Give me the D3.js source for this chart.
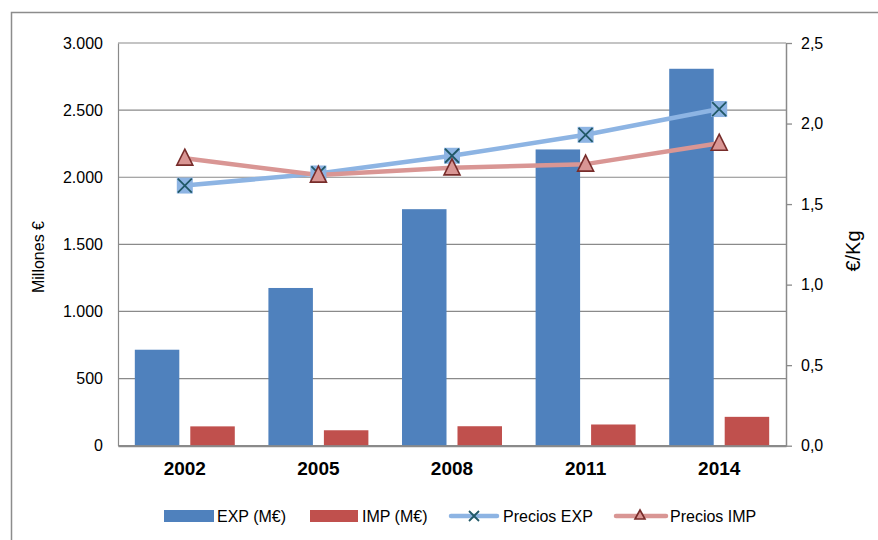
<!DOCTYPE html>
<html><head><meta charset="utf-8">
<script src="https://cdn.jsdelivr.net/npm/d3@7"></script>
<style>
html,body{margin:0;padding:0;background:#fff;}
svg{display:block;font-family:"Liberation Sans",Arial,sans-serif;}
</style></head>
<body>
<svg id="chart" width="878" height="540"></svg>
<script>
const years = ["2002","2005","2008","2011","2014"];
const expValues = [715, 1175, 1762, 2207, 2808];
const impValues = [144, 115, 145, 158, 215];
const preciosExp = [1.615, 1.69, 1.80, 1.93, 2.09];
const preciosImp = [1.785, 1.68, 1.725, 1.748, 1.878];
const leftTicks = [0, 500, 1000, 1500, 2000, 2500, 3000];
const rightTicks = [0, 0.5, 1.0, 1.5, 2.0, 2.5];
const seriesNames = ["EXP (M€)", "IMP (M€)", "Precios EXP", "Precios IMP"];

const svg = d3.select("#chart");
const L = 118, R = 786, T = 43, B = 445.7;
const loc = d3.formatLocale({decimal: ",", thousands: ".", grouping: [3], currency: ["", "€"]});
const fmtL = loc.format(",.0f"), fmtR = loc.format(".1f");

const x = d3.scaleBand().domain(years).range([L, R]).padding(0);
const xs = d3.scaleBand().domain(["EXP","IMP"]).range([0, x.bandwidth()]).paddingInner(0.198).paddingOuter(0.303);
const yL = d3.scaleLinear().domain([0, 3000]).range([B, T]);
const yR = d3.scaleLinear().domain([0, 2.5]).range([B, T]);

// outer border
svg.append("rect").attr("x", 11.5).attr("y", 12.5).attr("width", 900).attr("height", 600)
  .attr("fill", "none").attr("stroke", "#8c8c8c").attr("stroke-width", 1.5);

// gridlines
svg.append("g").selectAll("line").data(leftTicks).join("line")
  .attr("x1", L).attr("x2", R).attr("y1", d => yL(d)).attr("y2", d => yL(d))
  .attr("stroke", "#8a8a8a").attr("stroke-width", 1.2);

// left axis
const gl = svg.append("g").attr("transform", `translate(${L},0)`)
  .call(d3.axisLeft(yL).tickValues(leftTicks).tickFormat(fmtL).tickSize(0).tickPadding(15));
gl.select(".domain").attr("stroke", "#8a8a8a").attr("stroke-width", 1.2);
gl.selectAll("text").attr("font-size", 16).attr("fill", "#000").attr("font-family", "Liberation Sans, Arial, sans-serif");

// right axis
const gr = svg.append("g").attr("transform", `translate(${R},0)`)
  .call(d3.axisRight(yR).tickValues(rightTicks).tickFormat(fmtR).tickSize(6).tickSizeOuter(0).tickPadding(9));
gr.select(".domain").attr("stroke", "#8a8a8a").attr("stroke-width", 1.5);
gr.selectAll(".tick line").attr("stroke", "#8a8a8a").attr("stroke-width", 1.3);
gr.selectAll("text").attr("font-size", 16).attr("fill", "#000").attr("font-family", "Liberation Sans, Arial, sans-serif");

// bars
const bars = svg.append("g");
bars.selectAll("rect.exp").data(years).join("rect").attr("class", "exp")
  .attr("x", d => x(d) + xs("EXP")).attr("width", xs.bandwidth())
  .attr("y", (d, i) => yL(expValues[i])).attr("height", (d, i) => B - yL(expValues[i]))
  .attr("fill", "#4F81BD");
bars.selectAll("rect.imp").data(years).join("rect").attr("class", "imp")
  .attr("x", d => x(d) + xs("IMP")).attr("width", xs.bandwidth())
  .attr("y", (d, i) => yL(impValues[i])).attr("height", (d, i) => B - yL(impValues[i]))
  .attr("fill", "#C0504D");

// bottom axis
const gb = svg.append("g").attr("transform", `translate(0,${B})`)
  .call(d3.axisBottom(x).tickSize(0).tickPadding(16));
gb.select(".domain").attr("stroke", "#8a8a8a").attr("stroke-width", 2);
gb.selectAll("text").attr("font-size", 19).attr("font-weight", "bold").attr("fill", "#000")
  .attr("font-family", "Liberation Sans, Arial, sans-serif");

// lines
const cx = d => x(d) + x.bandwidth() / 2;
const lineExp = d3.line().x((d, i) => cx(years[i])).y(d => yR(d));
svg.append("path").datum(preciosExp).attr("d", lineExp).attr("fill", "none")
  .attr("stroke", "#8DB4E3").attr("stroke-width", 4.5).attr("stroke-linejoin", "round").attr("stroke-linecap", "round");
svg.append("path").datum(preciosImp).attr("d", lineExp).attr("fill", "none")
  .attr("stroke", "#D99694").attr("stroke-width", 4.5).attr("stroke-linejoin", "round").attr("stroke-linecap", "round");

function xMarker(g, px, py, s) {
  g.append("rect").attr("x", px - s/2).attr("y", py - s/2).attr("width", s).attr("height", s).attr("fill", "#8DB4E3");
  const h = s/2 - 1;
  g.append("path").attr("d", `M${px-h},${py-h}L${px+h},${py+h}M${px-h},${py+h}L${px+h},${py-h}`)
    .attr("stroke", "#215967").attr("stroke-width", 1.8).attr("fill", "none");
}
function triMarker(g, px, py, s) {
  g.append("path").attr("d", `M${px},${py - s/2 - 1}L${px + s/2},${py + s/2 - 1}L${px - s/2},${py + s/2 - 1}Z`)
    .attr("fill", "#D99694").attr("stroke", "#772C2A").attr("stroke-width", 1.6).attr("stroke-linejoin", "miter");
}
const mk = svg.append("g");
preciosExp.forEach((v, i) => xMarker(mk, cx(years[i]), yR(v), 16));
preciosImp.forEach((v, i) => triMarker(mk, cx(years[i]), yR(v), 16));

// axis titles
svg.append("text").attr("transform", "translate(44,257) rotate(-90)").attr("text-anchor", "middle")
  .attr("font-size", 16).attr("fill", "#000").text("Millones €");
svg.append("text").attr("transform", "translate(860,251) rotate(-90)").attr("text-anchor", "middle")
  .attr("font-size", 20).attr("fill", "#000").text("€/Kg");

// legend
const lg = svg.append("g").attr("font-size", 16).attr("fill", "#000");
const ly = 516;
lg.append("rect").attr("x", 164).attr("y", ly - 6).attr("width", 50).attr("height", 12).attr("fill", "#4F81BD");
lg.append("text").attr("x", 217).attr("y", ly).attr("dy", "0.35em").text(seriesNames[0]);
lg.append("rect").attr("x", 310).attr("y", ly - 6).attr("width", 48).attr("height", 12).attr("fill", "#C0504D");
lg.append("text").attr("x", 362).attr("y", ly).attr("dy", "0.35em").text(seriesNames[1]);
lg.append("line").attr("x1", 451).attr("x2", 497).attr("y1", ly).attr("y2", ly)
  .attr("stroke", "#8DB4E3").attr("stroke-width", 4.5).attr("stroke-linecap", "round");
lg.append("path").attr("d", `M${474-5},${ly-5}L${474+5},${ly+5}M${474-5},${ly+5}L${474+5},${ly-5}`)
  .attr("stroke", "#215967").attr("stroke-width", 1.8);
lg.append("text").attr("x", 503).attr("y", ly).attr("dy", "0.35em").text(seriesNames[2]);
lg.append("line").attr("x1", 616).attr("x2", 666).attr("y1", ly).attr("y2", ly)
  .attr("stroke", "#D99694").attr("stroke-width", 4.5).attr("stroke-linecap", "round");
lg.append("path").attr("d", `M640,${ly-6}L645,${ly+3}L635,${ly+3}Z`)
  .attr("fill", "#D99694").attr("stroke", "#772C2A").attr("stroke-width", 1.6);
lg.append("text").attr("x", 670).attr("y", ly).attr("dy", "0.35em").text(seriesNames[3]);
</script>
</body></html>
